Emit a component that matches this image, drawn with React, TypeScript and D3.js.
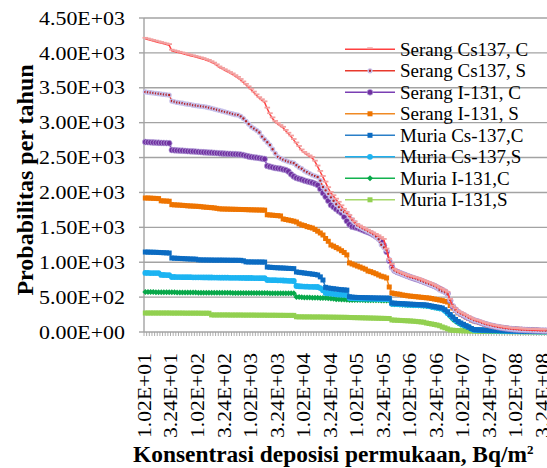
import * as d3 from "d3";

// values, one entry per deposition class (152 classes)
const serangCs137C = [
  4200, 4190, 4180, 4170, 4160, 4150, 4140, 4130, 4120, 4110,
  4030, 4020, 4010, 4000, 3990, 3980, 3970, 3960, 3950, 3940,
  3930, 3920, 3910, 3895, 3884, 3865, 3845, 3820, 3790, 3770,
  3750, 3730, 3710, 3690, 3665, 3640, 3610, 3575, 3540, 3505,
  3470, 3430, 3390, 3350, 3320, 3290, 3200, 3120, 3060, 3010,
  2980, 2950, 2925, 2880, 2840, 2800, 2750, 2700, 2650, 2600,
  2565, 2540, 2515, 2493, 2440, 2370, 2293, 2220, 2140, 2060,
  1992, 1945, 1895, 1850, 1800, 1750, 1705, 1660, 1610, 1570,
  1533, 1510, 1490, 1470, 1450, 1430, 1410, 1390, 1370, 1345,
  1318, 1180, 1032, 960, 888, 865, 846, 830, 815, 800,
  790, 780, 770, 760, 745, 730, 715, 700, 685, 665,
  645, 625, 605, 585, 560, 460, 360, 325, 290, 270,
  250, 230, 210, 190, 170, 160, 150, 135, 120, 110,
  100, 90, 82, 75, 68, 62, 56, 50, 46, 42,
  39, 36, 34, 32, 30, 28, 26, 25, 24, 23,
  22, 21,
];

const serangCs137S = [
  3440, 3435, 3430, 3425, 3420, 3415, 3410, 3405, 3400, 3396,
  3310, 3300, 3290, 3285, 3280, 3270, 3265, 3260, 3250, 3245,
  3240, 3235, 3230, 3224, 3215, 3205, 3195, 3185, 3175, 3165,
  3155, 3145, 3135, 3125, 3115, 3110, 3090, 3060, 3020, 2980,
  2940, 2915, 2890, 2860, 2800, 2760, 2720, 2680, 2620, 2560,
  2510, 2490, 2470, 2455, 2440, 2430, 2420, 2390, 2360, 2340,
  2310, 2290, 2270, 2250, 2235, 2221, 2170, 2078, 2030, 1980,
  1930, 1880, 1830, 1790, 1750, 1720, 1705, 1660, 1610, 1570,
  1525, 1505, 1485, 1465, 1445, 1425, 1400, 1370, 1330, 1250,
  1210, 1175, 1040, 917, 880, 860, 846, 830, 815, 800,
  785, 775, 765, 750, 735, 720, 702, 690, 675, 660,
  640, 602, 585, 570, 540, 459, 380, 315, 285, 265,
  245, 225, 205, 185, 168, 158, 146, 132, 118, 108,
  98, 88, 80, 73, 66, 60, 54, 49, 45, 41,
  38, 35, 33, 31, 29, 27, 25, 24, 23, 22,
  21, 20,
];

const serangI131C = [
  2723, 2720, 2718, 2716, 2714, 2712, 2710, 2709, 2708, 2706,
  2608, 2605, 2602, 2600, 2598, 2595, 2592, 2590, 2588, 2585,
  2582, 2579, 2576, 2574, 2572, 2570, 2567, 2564, 2561, 2558,
  2556, 2554, 2552, 2550, 2548, 2546, 2543, 2535, 2525, 2515,
  2508, 2503, 2498, 2493, 2485, 2479, 2380, 2370, 2360, 2350,
  2345, 2340, 2330, 2321, 2300, 2260, 2230, 2207, 2195, 2185,
  2170, 2160, 2150, 2140, 2125, 2106, 2050, 1992, 1940, 1880,
  1820, 1790, 1760, 1730, 1705, 1650, 1590, 1540, 1510, 1500,
  1490, 1475, 1460, 1445, 1430, 1415, 1395, 1370, 1340, 1300,
  1240, 1150, 1020, 930, 880, 860, 845, 830, 815, 800,
  785, 772, 760, 748, 735, 720, 705, 690, 675, 660,
  640, 620, 600, 580, 550, 450, 365, 320, 285, 262,
  240, 220, 200, 182, 165, 155, 142, 128, 115, 105,
  95, 86, 78, 71, 64, 58, 52, 47, 43, 39,
  36, 34, 32, 30, 28, 26, 24, 23, 22, 21,
  20, 19,
];

const serangI131S = [
  1920, 1920, 1918, 1916, 1914, 1912, 1880, 1878, 1876, 1874,
  1825, 1822, 1820, 1818, 1815, 1812, 1808, 1806, 1804, 1802,
  1800, 1796, 1791, 1788, 1785, 1782, 1778, 1772, 1765, 1763,
  1762, 1761, 1760, 1759, 1758, 1757, 1756, 1755, 1754, 1752,
  1751, 1750, 1749, 1748, 1747, 1746, 1680, 1677, 1674, 1670,
  1667, 1663, 1620, 1612, 1604, 1596, 1588, 1576, 1550, 1535,
  1525, 1510, 1500, 1490, 1470, 1445, 1419, 1390, 1340, 1300,
  1247, 1230, 1210, 1190, 1165, 1140, 1105, 990, 975, 960,
  945, 931, 915, 900, 874, 865, 850, 835, 817, 800,
  790, 774, 645, 559, 550, 545, 540, 530, 525, 518,
  514, 510, 506, 502, 498, 494, 490, 487, 480, 472,
  465, 458, 450, 440, 430, 380, 344, 310, 275, 255,
  235, 215, 195, 172, 160, 148, 136, 124, 112, 100,
  92, 85, 78, 72, 66, 60, 55, 50, 46, 42,
  40, 38, 36, 34, 32, 30, 28, 26, 24, 22,
  20, 18,
];

const muriaCs137C = [
  1146, 1145, 1144, 1143, 1142, 1140, 1138, 1136, 1134, 1132,
  1060, 1058, 1056, 1054, 1052, 1050, 1048, 1046, 1045, 1044,
  1034, 1033, 1032, 1032, 1031, 1031, 1030, 1030, 1030, 1030,
  1029, 1029, 1028, 1028, 1028, 1027, 1027, 1020, 1005, 1004,
  1004, 1003, 1003, 1003, 1002, 1002, 931, 928, 925, 922,
  920, 918, 917, 914, 912, 910, 908, 860, 855, 850,
  845, 840, 835, 830, 825, 817, 790, 745, 640, 630,
  625, 620, 615, 610, 606, 603, 600, 505, 500, 497,
  495, 494, 493, 492, 491, 490, 489, 488, 487, 487,
  486, 486, 485, 416, 413, 410, 408, 405, 403, 401,
  399, 397, 395, 393, 391, 389, 387, 380, 372, 365,
  358, 352, 344, 320, 290, 250, 215, 180, 150, 129,
  110, 90, 70, 50, 35, 32, 30, 28, 27, 26,
  25, 24, 23, 22, 21, 20, 19, 18, 17, 16,
  15, 14, 13, 12, 11, 10, 10, 9, 9, 8,
  8, 7,
];

const muriaCs137S = [
  846, 846, 845, 845, 844, 844, 818, 817, 816, 815,
  788, 788, 787, 787, 786, 786, 785, 785, 784, 784,
  783, 783, 782, 782, 781, 781, 780, 780, 779, 779,
  778, 778, 777, 777, 776, 776, 775, 775, 774, 774,
  774, 773, 773, 772, 772, 772, 745, 744, 743, 742,
  741, 740, 738, 736, 734, 732, 731, 659, 656, 653,
  651, 649, 648, 647, 646, 645, 630, 600, 559, 555,
  550, 545, 540, 537, 535, 533, 530, 487, 485, 483,
  481, 480, 479, 478, 477, 476, 475, 474, 473, 472,
  471, 470, 469, 405, 402, 400, 398, 396, 394, 392,
  390, 388, 386, 384, 382, 380, 378, 370, 362, 355,
  348, 340, 332, 305, 270, 235, 200, 170, 143, 120,
  100, 85, 72, 45, 30, 28, 26, 25, 24, 23,
  22, 21, 20, 19, 18, 17, 16, 15, 14, 13,
  12, 11, 10, 10, 9, 9, 8, 8, 7, 7,
  6, 6,
];

const muriaI131C = [
  573, 573, 572, 572, 571, 571, 570, 570, 569, 569,
  568, 568, 567, 567, 566, 566, 566, 565, 565, 565,
  564, 564, 564, 563, 563, 563, 562, 562, 562, 561,
  561, 561, 561, 560, 560, 560, 560, 559, 559, 559,
  559, 559, 558, 558, 558, 558, 558, 557, 557, 557,
  557, 556, 556, 556, 556, 555, 555, 502, 500, 498,
  496, 494, 493, 492, 491, 490, 489, 488, 487, 485,
  480, 475, 470, 468, 466, 464, 462, 459, 459, 458,
  458, 457, 457, 456, 456, 455, 455, 454, 454, 453,
  453, 452, 452, 400, 398, 396, 394, 392, 390, 388,
  386, 384, 382, 380, 378, 376, 374, 368, 360, 352,
  345, 338, 330, 300, 260, 220, 180, 150, 125, 105,
  90, 75, 60, 40, 28, 26, 24, 22, 21, 20,
  19, 18, 17, 16, 15, 14, 13, 12, 11, 10,
  10, 9, 9, 8, 8, 7, 7, 6, 6, 5,
  5, 5,
];

const muriaI131S = [
  272, 272, 272, 272, 272, 272, 272, 272, 272, 272,
  271, 271, 271, 271, 271, 270, 270, 270, 270, 270,
  270, 269, 269, 269, 269, 245, 244, 244, 244, 244,
  244, 244, 243, 243, 243, 243, 243, 242, 242, 242,
  242, 242, 241, 241, 241, 241, 240, 240, 240, 240,
  239, 239, 239, 238, 238, 238, 238, 218, 217, 217,
  216, 216, 216, 215, 215, 215, 215, 214, 214, 213,
  213, 212, 212, 211, 211, 210, 210, 208, 207, 206,
  205, 204, 203, 202, 201, 200, 199, 198, 197, 196,
  195, 194, 193, 172, 170, 168, 166, 164, 162, 160,
  158, 155, 152, 148, 144, 140, 129, 122, 115, 108,
  100, 90, 72, 60, 45, 29, 25, 22, 20, 18,
  17, 16, 15, 14, 13, 12, 11, 10, 10, 9,
  9, 8, 8, 7, 7, 6, 6, 6, 5, 5,
  5, 5, 4, 4, 4, 4, 3, 3, 3, 3,
  3, 3,
];

// one label every 10 classes
const xTickLabels = [
  "1.02E+01", "3.24E+01", "1.02E+02", "3.24E+02", "1.02E+03", "3.24E+03",
  "1.02E+04", "3.24E+04", "1.02E+05", "3.24E+05", "1.02E+06", "3.24E+06",
  "1.02E+07", "3.24E+07", "1.02E+08", "3.24E+08",
];
const labelEvery = 10;

const yTicks = [0, 500, 1000, 1500, 2000, 2500, 3000, 3500, 4000, 4500];
const yTickLabels = [
  "0.00E+00", "5.00E+02", "1.00E+03", "1.50E+03", "2.00E+03",
  "2.50E+03", "3.00E+03", "3.50E+03", "4.00E+03", "4.50E+03",
];

type Marker = "dash" | "dot" | "circle" | "square" | "diamond";

const series: {
  name: string;
  values: number[];
  line: string;
  marker: Marker;
  fill: string;
  stroke?: string;
}[] = [
  { name: "Serang Cs137, C", values: serangCs137C, line: "#ff4040", marker: "dash", fill: "#f2a0a0" },
  { name: "Serang Cs137, S", values: serangCs137S, line: "#e8392c", marker: "dot", fill: "#b3262a", stroke: "#c6c0ea" },
  { name: "Serang I-131, C", values: serangI131C, line: "#7a3fb3", marker: "circle", fill: "#7030a0", stroke: "#b8a8dc" },
  { name: "Serang I-131, S", values: serangI131S, line: "#f08a24", marker: "square", fill: "#ee7400" },
  { name: "Muria Cs-137,C", values: muriaCs137C, line: "#2a7fc8", marker: "square", fill: "#0b6bc2" },
  { name: "Muria Cs-137,S", values: muriaCs137S, line: "#1fb0ee", marker: "circle", fill: "#1cb4f2" },
  { name: "Muria I-131,C", values: muriaI131C, line: "#12b24f", marker: "diamond", fill: "#08a84a" },
  { name: "Muria I-131,S", values: muriaI131S, line: "#a6d86a", marker: "square", fill: "#92d050" },
];

const width = 547;
const height = 468;
const marginLeft = 144;
const marginRight = 0;
const plotTop = 18;
const plotBottom = 332;
const serif = "'Liberation Serif', 'Times New Roman', serif";
const gridColor = "#a3a3a3";

function MarkerShape({ m, cx, cy, fill, stroke }: { m: Marker; cx: number; cy: number; fill: string; stroke?: string }) {
  if (m === "dash") return <rect x={cx - 2.8} y={cy - 2} width={5.6} height={1.8} fill={fill} />;
  if (m === "dot")
    return <circle cx={cx} cy={cy} r={1.9} fill={fill} stroke={stroke} strokeWidth={1.4} />;
  if (m === "circle")
    return <circle cx={cx} cy={cy} r={2.9} fill={fill} stroke={stroke} strokeWidth={stroke ? 0.7 : 0} />;
  if (m === "square") return <rect x={cx - 2.5} y={cy - 2.5} width={5} height={5} fill={fill} />;
  return <path d={`M${cx},${cy - 3}L${cx + 3},${cy}L${cx},${cy + 3}L${cx - 3},${cy}Z`} fill={fill} />;
}

export default function App() {
  const n = serangCs137C.length;
  const x = d3
    .scaleBand<number>()
    .domain(d3.range(n))
    .range([marginLeft, width - marginRight]);
  const y = d3.scaleLinear().domain([0, 4500]).range([plotBottom, plotTop]);
  const cx = (i: number) => (x(i) as number) + x.bandwidth() / 2;

  const line = d3
    .line<number>()
    .x((_, i) => cx(i))
    .y((v) => y(v));

  const legendTop = 49.3;
  const legendStep = 21.5;

  return (
    <svg
      width={width}
      height={height}
      style={{ position: "absolute", left: 0, top: 0, background: "#fff" }}
    >
      {/* grid */}
      {yTicks.slice(1).map((t) => (
        <line key={t} x1={marginLeft} x2={width} y1={y(t)} y2={y(t)} stroke={gridColor} strokeWidth={1.4} />
      ))}
      {/* y axis */}
      <line x1={marginLeft} x2={marginLeft} y1={plotTop} y2={plotBottom} stroke={gridColor} strokeWidth={1.4} />
      {yTicks.map((t, k) => (
        <g key={t}>
          <line x1={marginLeft - 5} x2={marginLeft} y1={y(t)} y2={y(t)} stroke={gridColor} strokeWidth={1.4} />
          <text
            x={125}
            y={y(t)}
            dy="0.35em"
            textAnchor="end"
            fontFamily={serif}
            fontSize={19}
            textLength={86}
            lengthAdjust="spacingAndGlyphs"
            fill="#000"
          >
            {yTickLabels[k]}
          </text>
        </g>
      ))}
      {/* x axis */}
      <line x1={marginLeft} x2={width} y1={plotBottom} y2={plotBottom} stroke={gridColor} strokeWidth={1.4} />
      {d3.range(n + 1).map((i) => {
        const xx = marginLeft + i * x.step();
        return <line key={i} x1={xx} x2={xx} y1={plotBottom} y2={plotBottom + 4} stroke={gridColor} strokeWidth={0.9} />;
      })}
      {xTickLabels.map((lab, k) => (
        <text
          key={lab + k}
          transform={`translate(${cx(k * labelEvery) - 1},353) rotate(-90)`}
          dy="0.35em"
          textAnchor="end"
          fontFamily={serif}
          fontSize={19}
          textLength={85}
          lengthAdjust="spacingAndGlyphs"
          fill="#000"
        >
          {lab}
        </text>
      ))}

      {/* series, last drawn first */}
      {series
        .slice()
        .reverse()
        .map((s) => (
          <g key={s.name}>
            <path d={line(s.values) ?? ""} fill="none" stroke={s.line} strokeWidth={1.5} />
            {s.values.map((v, i) => (
              <MarkerShape key={i} m={s.marker} cx={cx(i)} cy={y(v)} fill={s.fill} stroke={s.stroke} />
            ))}
          </g>
        ))}

      {/* legend */}
      {series.map((s, k) => {
        const ly = legendTop + k * legendStep;
        return (
          <g key={s.name}>
            <line x1={345} x2={395} y1={ly} y2={ly} stroke={s.line} strokeWidth={1.5} />
            <MarkerShape m={s.marker} cx={370} cy={ly} fill={s.fill} stroke={s.stroke} />
            <text x={400} y={ly} dy="0.35em" fontFamily={serif} fontSize={19} fill="#000">
              {s.name}
            </text>
          </g>
        );
      })}

      {/* axis titles */}
      <text
        transform="translate(33,180) rotate(-90)"
        textAnchor="middle"
        fontFamily={serif}
        fontSize={24}
        fontWeight="bold"
        fill="#000"
      >
        Probabilitas per tahun
      </text>
      <text
        x={133}
        y={462}
        fontFamily={serif}
        fontSize={23}
        fontWeight="bold"
        textLength={394}
        lengthAdjust="spacingAndGlyphs"
        fill="#000"
      >
        Konsentrasi deposisi permukaan, Bq/m
      </text>
      <text x={527} y={454} fontFamily={serif} fontSize={13} fontWeight="bold" fill="#000">
        2
      </text>
    </svg>
  );
}
